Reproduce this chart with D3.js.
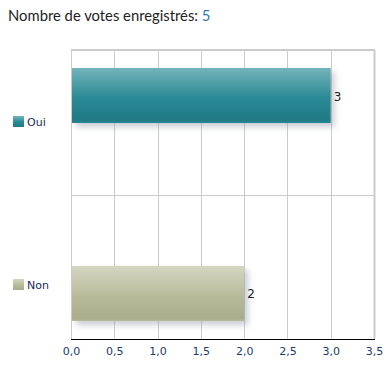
<!DOCTYPE html>
<html>
<head>
<meta charset="utf-8">
<script src="https://cdn.jsdelivr.net/npm/d3@7"></script>
<style>
  body { margin: 0; background: #fff; }
</style>
</head>
<body>
<div class="chart"></div>
<script>
// votes par réponse
var categories = ["Oui", "Non"];
var votes = [3, 2];
var colors = [["#74b3bb", "#2a8a95", "#1f7a86"], ["#d4d6c2", "#b8bb9a", "#a8ac89"]];
var ticks = [0, 0.5, 1, 1.5, 2, 2.5, 3, 3.5];
var total = 5;

var svg = d3.select(".chart")
            .append("svg")
            .attr("width", 392)
            .attr("height", 375);

var defs = svg.append("defs");
colors.forEach(function(c, i) {
    var g = defs.append("linearGradient")
        .attr("id", "grad" + i)
        .attr("x1", 0).attr("y1", 0).attr("x2", 0).attr("y2", 1);
    g.append("stop").attr("offset", "0%").attr("stop-color", c[0]);
    g.append("stop").attr("offset", "55%").attr("stop-color", c[1]);
    g.append("stop").attr("offset", "95%").attr("stop-color", c[2]);
    g.append("stop").attr("offset", "100%").attr("stop-color", c[1]);
});
defs.append("filter")
    .attr("id", "shadow")
    .attr("x", "-10%").attr("y", "-20%").attr("width", "130%").attr("height", "160%")
    .append("feDropShadow")
    .attr("dx", 4).attr("dy", 4)
    .attr("stdDeviation", 3)
    .attr("flood-color", "#8a90a0")
    .attr("flood-opacity", 0.45);

// titre
var title = svg.append("text")
    .attr("x", 8)
    .attr("y", 21)
    .style("font-family", "Lato, 'Open Sans', sans-serif")
    .style("font-size", "14.8px")
    .attr("fill", "#222");
title.append("tspan").text("Nombre de votes enregistrés: ");
title.append("tspan").attr("fill", "#2b7bb0").text(total);

var x = d3.scaleLinear().domain([0, 3.5]).range([71, 374]);
var y = d3.scaleBand().domain(categories).range([50, 339])
    .paddingInner(0.722).paddingOuter(0.0909);
var yLabel = d3.scalePoint().domain(categories).range([122, 285]);

// grille
svg.selectAll(".vgrid")
    .data(ticks)
    .enter().append("line")
    .attr("x1", function(d) { return Math.round(x(d)) + 0.5; })
    .attr("x2", function(d) { return Math.round(x(d)) + 0.5; })
    .attr("y1", 50)
    .attr("y2", 339)
    .style("stroke", "#cccccc")
    .style("stroke-width", function(d) { return d == 3.5 ? 2 : 1; });

svg.append("line")
    .attr("x1", 71).attr("x2", 375)
    .attr("y1", 50).attr("y2", 50)
    .style("stroke", "#cccccc")
    .style("stroke-width", 2);

svg.append("line")
    .attr("x1", 71).attr("x2", 374)
    .attr("y1", 195.5).attr("y2", 195.5)
    .style("stroke", "#cccccc")
    .style("stroke-width", 1);

// barres
svg.selectAll(".bar")
    .data(votes)
    .enter().append("rect")
    .attr("x", x(0) + 1)
    .attr("y", function(d, i) { return y(categories[i]); })
    .attr("width", function(d) { return x(d) - x(0) - 1; })
    .attr("height", y.bandwidth())
    .attr("fill", function(d, i) { return "url(#grad" + i + ")"; })
    .attr("filter", "url(#shadow)");

svg.selectAll(".val")
    .data(votes)
    .enter().append("text")
    .attr("x", function(d) { return x(d) + 3; })
    .attr("y", function(d, i) { return y(categories[i]) + y.bandwidth() / 2 + 5; })
    .text(function(d) { return d; })
    .style("font-family", "'DejaVu Sans', Verdana, sans-serif")
    .style("font-size", "12px")
    .attr("fill", "#222");

// axe x
var xAxis = svg.append("g")
    .attr("transform", "translate(0,339)")
    .call(d3.axisBottom(x).tickValues(ticks).tickSize(0).tickPadding(8)
        .tickFormat(function(d) { return d3.format(".1f")(d).replace(".", ","); }));
xAxis.select(".domain").attr("stroke", "#000").attr("d", "M71,0.5H375");
xAxis.selectAll("text")
    .style("font-family", "'DejaVu Sans', Verdana, sans-serif")
    .style("font-size", "11px")
    .attr("fill", "#1a3a6a");

// étiquettes des catégories
categories.forEach(function(c, i) {
    svg.append("rect")
        .attr("x", 13)
        .attr("y", yLabel(c) - 6)
        .attr("width", 11)
        .attr("height", 11)
        .attr("fill", "url(#grad" + i + ")");
    svg.append("text")
        .attr("x", 27)
        .attr("y", yLabel(c) + 4)
        .text(c)
        .style("font-family", "'DejaVu Sans', Verdana, sans-serif")
        .style("font-size", "11px")
        .attr("fill", "#1a2a5a");
});
</script>
</body>
</html>
